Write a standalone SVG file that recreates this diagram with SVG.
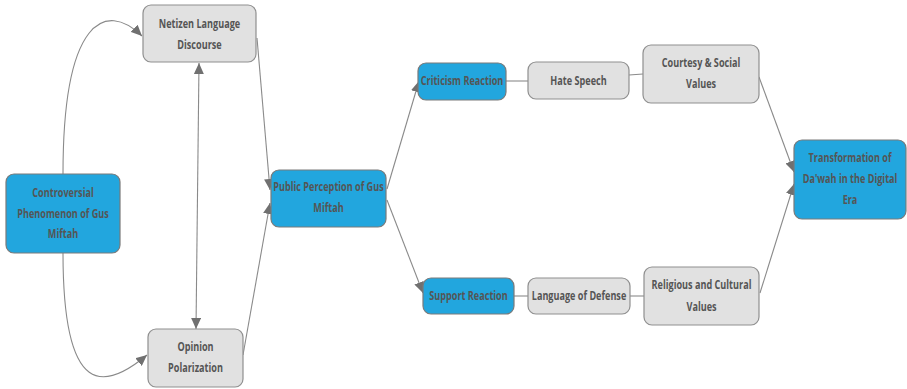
<svg xmlns="http://www.w3.org/2000/svg" width="907" height="389" viewBox="0 0 907 389">
<defs>
<marker id="arr" markerUnits="userSpaceOnUse" markerWidth="12" markerHeight="10" refX="11" refY="5" orient="auto-start-reverse">
<path d="M0,0 L11,5 L0,10 Z" fill="#707070"/>
</marker>
<style>
.blue{fill:#22a6de;stroke:#7a7a7a;stroke-width:1.2}
.gray{fill:#e1e1e1;stroke:#8f8f8f;stroke-width:1.2}
.t{font-family:"Open Sans","Liberation Sans",sans-serif;font-weight:700;font-size:13px;fill:#555;text-anchor:middle}
.c{fill:none;stroke:#8a8a8a;stroke-width:1.1}
</style>
</defs>
<rect width="907" height="389" fill="#fff"/>
<g id="connectors">
<path class="c" d="M63,174 C63,20 105,0 142,36" marker-end="url(#arr)"/>
<path class="c" d="M63,253 C63,400 105,390 147,355" marker-end="url(#arr)"/>
<path class="c" d="M199,63 L196,329" marker-start="url(#arr)" marker-end="url(#arr)"/>
<path class="c" d="M257,38 L270,190" marker-end="url(#arr)"/>
<path class="c" d="M243,355 L270,203" marker-end="url(#arr)"/>
<path class="c" d="M387,189 L419,81" marker-end="url(#arr)"/>
<path class="c" d="M387,200 L423,293" marker-end="url(#arr)"/>
<path class="c" d="M506,81 L528,81"/>
<path class="c" d="M629,75 L643,74"/>
<path class="c" d="M514,296 L528,296"/>
<path class="c" d="M630,296 L644,296"/>
<path class="c" d="M759,77 L794,172" marker-end="url(#arr)"/>
<path class="c" d="M760,293 L794,184" marker-end="url(#arr)"/>
</g>
<g id="n-controversial">
<rect class="blue" x="6" y="174" width="114" height="79" rx="8"/>
<text class="t" transform="matrix(0.7,0,0,1,63,0)"><tspan x="0" y="197">Controversial</tspan><tspan x="0" y="218">Phenomenon of Gus</tspan><tspan x="0" y="238">Miftah</tspan></text>
</g>
<g id="n-netizen">
<rect class="gray" x="143" y="5" width="113" height="57" rx="8"/>
<text class="t" transform="matrix(0.7,0,0,1,199.5,0)"><tspan x="0" y="28">Netizen Language</tspan><tspan x="0" y="49">Discourse</tspan></text>
</g>
<g id="n-opinion">
<rect class="gray" x="148" y="329" width="95" height="58" rx="8"/>
<text class="t" transform="matrix(0.7,0,0,1,195.5,0)"><tspan x="0" y="351.5">Opinion</tspan><tspan x="0" y="372.5">Polarization</tspan></text>
</g>
<g id="n-public">
<rect class="blue" x="271" y="170" width="115" height="57" rx="8"/>
<text class="t" transform="matrix(0.7,0,0,1,328.5,0)"><tspan x="0" y="191.5">Public Perception of Gus</tspan><tspan x="0" y="212.5">Miftah</tspan></text>
</g>
<g id="n-criticism">
<rect class="blue" x="418" y="63" width="88" height="37" rx="8"/>
<text class="t" transform="matrix(0.7,0,0,1,462,0)" x="0" y="85.5">Criticism Reaction</text>
</g>
<g id="n-hate">
<rect class="gray" x="528" y="62" width="101" height="37" rx="8"/>
<text class="t" transform="matrix(0.7,0,0,1,578.5,0)" x="0" y="85">Hate Speech</text>
</g>
<g id="n-courtesy">
<rect class="gray" x="643" y="45" width="116" height="58" rx="8"/>
<text class="t" transform="matrix(0.7,0,0,1,701,0)"><tspan x="0" y="67.5">Courtesy &amp; Social</tspan><tspan x="0" y="88.5">Values</tspan></text>
</g>
<g id="n-transformation">
<rect class="blue" x="794" y="140" width="112" height="79" rx="8"/>
<text class="t" transform="matrix(0.7,0,0,1,850,0)"><tspan x="0" y="162.5">Transformation of</tspan><tspan x="0" y="183.5">Da'wah in the Digital</tspan><tspan x="0" y="204.5">Era</tspan></text>
</g>
<g id="n-support">
<rect class="blue" x="423" y="278" width="91" height="36" rx="8"/>
<text class="t" transform="matrix(0.7,0,0,1,468.5,0)" x="0" y="300.5">Support Reaction</text>
</g>
<g id="n-defense">
<rect class="gray" x="528" y="278" width="102" height="36" rx="8"/>
<text class="t" transform="matrix(0.7,0,0,1,579,0)" x="0" y="300.5">Language of Defense</text>
</g>
<g id="n-religious">
<rect class="gray" x="644" y="267" width="115" height="58" rx="8"/>
<text class="t" transform="matrix(0.7,0,0,1,701.5,0)"><tspan x="0" y="289.5">Religious and Cultural</tspan><tspan x="0" y="311.5">Values</tspan></text>
</g>
</svg>
